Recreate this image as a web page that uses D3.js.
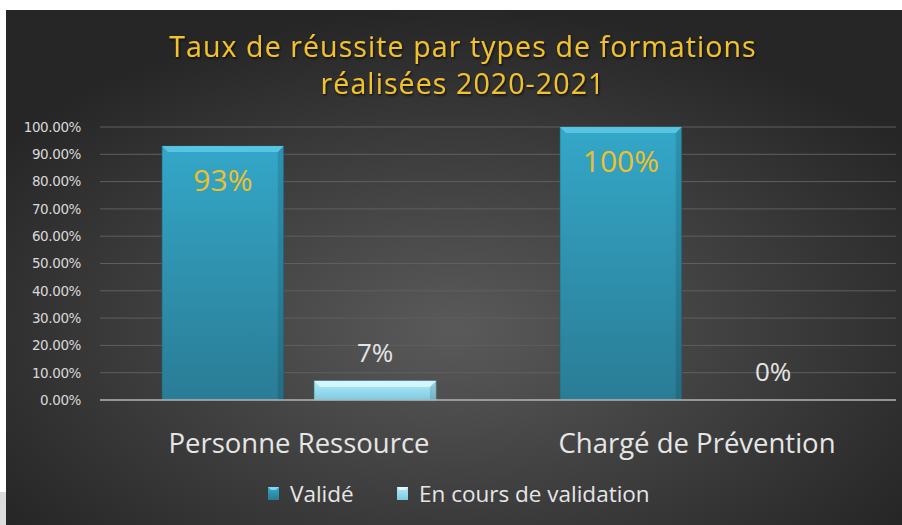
<!DOCTYPE html>
<html>
<head>
<meta charset="utf-8">
<script src="https://cdn.jsdelivr.net/npm/d3@7"></script>
<style>
  body { margin: 0; background: #fff; }
  svg { display: block; }
</style>
</head>
<body>
<div id="chart"></div>
<script>
// data
const categories = ["Personne Ressource", "Chargé de Prévention"];
const series = ["Validé", "En cours de validation"];
const valide = [0.93, 1.00];
const enCours = [0.07, 0.00];
const valueLabels = [["93%", "7%"], ["100%", "0%"]];
const yTicks = [0, 0.1, 0.2, 0.3, 0.4, 0.5, 0.6, 0.7, 0.8, 0.9, 1.0];
const titleLines = ["Taux de réussite par types de formations", "réalisées 2020-2021"];

const width = 902, height = 525;
const margin = { top: 127, right: 6, bottom: 125, left: 100 };
const font = "'Open Sans', sans-serif";

const svg = d3.select("#chart").append("svg")
    .attr("width", width)
    .attr("height", height);

const defs = svg.append("defs");

// background gradient
const bg = defs.append("radialGradient")
    .attr("id", "bg")
    .attr("cx", "50%").attr("cy", "62%").attr("r", "62%");
bg.append("stop").attr("offset", "0%").attr("stop-color", "#5a5a5a");
bg.append("stop").attr("offset", "100%").attr("stop-color", "#262626");

const gValide = defs.append("linearGradient")
    .attr("id", "gValide").attr("x1", 0).attr("y1", 0).attr("x2", 0).attr("y2", 1);
gValide.append("stop").attr("offset", "0%").attr("stop-color", "#34a7c8");
gValide.append("stop").attr("offset", "100%").attr("stop-color", "#2a7c95");

const gEnCours = defs.append("linearGradient")
    .attr("id", "gEnCours").attr("x1", 0).attr("y1", 0).attr("x2", 0).attr("y2", 1);
gEnCours.append("stop").attr("offset", "0%").attr("stop-color", "#b5ecfa");
gEnCours.append("stop").attr("offset", "100%").attr("stop-color", "#7ccbe2");

const shadow = defs.append("filter").attr("id", "shadow");
shadow.append("feDropShadow")
    .attr("dx", 1).attr("dy", 1.5)
    .attr("stdDeviation", 1.2)
    .attr("flood-color", "#000")
    .attr("flood-opacity", 0.7);

svg.append("rect")
    .attr("x", 6).attr("y", 10)
    .attr("width", width - 6).attr("height", height - 10)
    .attr("fill", "url(#bg)");

svg.append("rect")
    .attr("x", 0).attr("y", 492)
    .attr("width", 6).attr("height", 33)
    .attr("fill", "#dcdcdc");

// title
svg.append("text")
    .attr("text-anchor", "middle")
    .attr("fill", "#f2c12e")
    .attr("filter", "url(#shadow)")
    .style("font-family", font)
    .style("font-size", "28.5px")
    .style("letter-spacing", "1.1px")
    .selectAll("tspan")
    .data(titleLines)
    .enter()
    .append("tspan")
    .attr("x", 463)
    .attr("y", (d, i) => 57 + i * 37)
    .text(d => d);

// scales
const x0 = d3.scaleBand()
    .domain(categories)
    .range([margin.left, margin.left + 796]);

const x1 = d3.scaleBand()
    .domain(series)
    .range([62, x0.bandwidth() - 62])
    .paddingInner(0.2);

const y = d3.scaleLinear()
    .domain([0, 1])
    .range([400, margin.top]);

// gridlines
svg.append("g")
    .selectAll("line")
    .data(yTicks.slice(1))
    .enter()
    .append("line")
    .attr("x1", margin.left)
    .attr("x2", margin.left + 796)
    .attr("y1", d => y(d))
    .attr("y2", d => y(d))
    .attr("stroke", "#5f5f5f")
    .attr("stroke-width", 1);

// y axis
const yAxis = svg.append("g")
    .attr("transform", `translate(${margin.left - 16},0)`)
    .call(d3.axisLeft(y).tickValues(yTicks).tickFormat(d3.format(".2%")).tickSize(0));
yAxis.select(".domain").remove();
yAxis.selectAll("text")
    .attr("fill", "#d9d9d9")
    .style("font-family", "'DejaVu Sans', sans-serif")
    .style("font-size", "13.5px")
    .style("letter-spacing", "-0.4px");

// bars
const rows = categories.map((c, i) => ({
    cat: c,
    bars: [
        { s: series[0], v: valide[i], label: valueLabels[i][0] },
        { s: series[1], v: enCours[i], label: valueLabels[i][1] }
    ]
}));

const groups = svg.selectAll(".grp")
    .data(rows)
    .enter()
    .append("g")
    .attr("class", "grp")
    .attr("transform", d => `translate(${x0(d.cat)},0)`);

const bars = groups.selectAll(".bar")
    .data(d => d.bars)
    .enter()
    .append("g")
    .attr("class", "bar");

bars.filter(d => d.v > 0).append("rect")
    .attr("x", d => x1(d.s))
    .attr("y", d => y(d.v))
    .attr("width", x1.bandwidth())
    .attr("height", d => y(0) - y(d.v))
    .attr("fill", d => d.s === series[0] ? "url(#gValide)" : "url(#gEnCours)")
    .attr("stroke", d => d.s === series[0] ? "#1f6276" : "#6fb8cf")
    .attr("stroke-width", 0.6);

// bevel on top edge
bars.filter(d => d.v > 0).append("path")
    .attr("d", d => {
        const xa = x1(d.s), xb = xa + x1.bandwidth(), t = y(d.v), b = 6;
        return `M${xa},${t}L${xb},${t}L${xb - b},${t + b}L${xa + b},${t + b}Z`;
    })
    .attr("fill", d => d.s === series[0] ? "#5cc8e6" : "#d8f8ff")
    .attr("opacity", 0.9);
bars.filter(d => d.v > 0).append("path")
    .attr("d", d => {
        const xa = x1(d.s), xb = xa + x1.bandwidth(), t = y(d.v), b = 6;
        return `M${xb},${t}L${xb},${y(0)}L${xb - b},${y(0)}L${xb - b},${t + b}Z`;
    })
    .attr("fill", "#000")
    .attr("opacity", 0.12);

// value labels
bars.append("text")
    .attr("text-anchor", "middle")
    .attr("x", d => x1(d.s) + x1.bandwidth() / 2)
    .attr("y", d => d.s === series[0] ? y(d.v) + 45 : y(d.v) - 19)
    .attr("fill", d => d.s === series[0] ? "#f0c02a" : "#e4e4e4")
    .style("font-family", font)
    .style("font-size", d => d.s === series[0] ? "30px" : "26px")
    .text(d => d.label);

// x axis line
svg.append("line")
    .attr("x1", margin.left)
    .attr("x2", margin.left + 796)
    .attr("y1", y(0))
    .attr("y2", y(0))
    .attr("stroke", "#b4b4b4")
    .attr("stroke-width", 1.5);

// category labels
svg.append("g")
    .attr("transform", `translate(0,${y(0)})`)
    .call(d3.axisBottom(x0).tickSize(0))
    .call(g => g.select(".domain").remove())
    .selectAll("text")
    .attr("dy", 0)
    .attr("y", 53)
    .attr("fill", "#e6e6e6")
    .style("font-family", font)
    .style("font-size", "27.5px");

// legend
const legendItems = [
    { s: series[0], x: 268, grad: "url(#gValide)" },
    { s: series[1], x: 397, grad: "url(#gEnCours)" }
];
const legend = svg.append("g");
const li = legend.selectAll("g")
    .data(legendItems)
    .enter()
    .append("g")
    .attr("transform", d => `translate(${d.x},487)`);
li.append("rect")
    .attr("width", 11)
    .attr("height", 13)
    .attr("fill", d => d.grad);
li.append("path")
    .attr("d", "M0,0L11,0L8,3L3,3Z")
    .attr("fill", (d, i) => i === 0 ? "#7fd8f0" : "#e0fbff");
li.append("text")
    .attr("x", 22)
    .attr("y", 15)
    .attr("fill", "#e6e6e6")
    .style("font-family", font)
    .style("font-size", "22.5px")
    .text(d => d.s);
</script>
</body>
</html>
